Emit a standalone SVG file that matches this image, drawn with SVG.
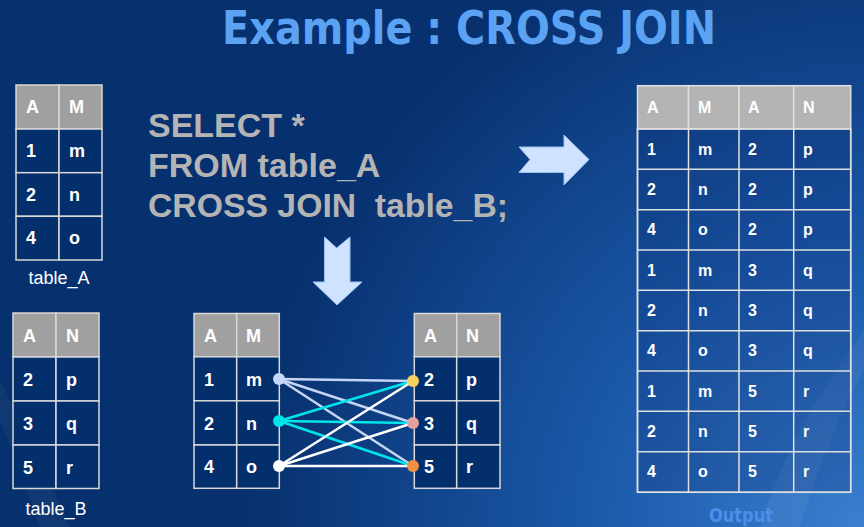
<svg xmlns="http://www.w3.org/2000/svg" width="864" height="527" viewBox="0 0 864 527">
<defs>
<radialGradient id="bg" cx="864" cy="527" r="620" gradientUnits="userSpaceOnUse">
<stop offset="0" stop-color="#3a7fd0"/>
<stop offset="0.45" stop-color="#1a58a8"/>
<stop offset="1" stop-color="#07306e"/>
</radialGradient>
<style>
.hdr{fill:#a0a0a0;stroke:#d8d8d8;stroke-width:1.5}
.ohdr{fill:#b4b4b4;stroke:#e0e0e0;stroke-width:1.5}
.cell{fill:#03306c;stroke:#d8d8d8;stroke-width:1.5}
.ocell{fill:#0a2a70;fill-opacity:0.25;stroke:#e0e0e0;stroke-width:1.5}
.t{font-family:"Liberation Sans",Arial,sans-serif;font-weight:bold;font-size:18px;fill:#ffffff}
.ot{font-family:"Liberation Sans",Arial,sans-serif;font-weight:bold;font-size:16px;fill:#ffffff}
.lbl{font-family:"Liberation Sans",Arial,sans-serif;font-size:18px;fill:#ffffff}
.sql{font-family:"Liberation Sans",Arial,sans-serif;font-weight:bold;font-size:34px;fill:#b4b4b4}
.arrow{fill:#cfe2ff;stroke:#9cc0f0;stroke-width:1}
</style>
</defs>
<rect x="0" y="0" width="864" height="527" fill="url(#bg)"/>
<path d="M0,380 Q40,460 70,527 L40,527 Q20,470 0,420 Z" fill="#ffffff" fill-opacity="0.04"/>
<path d="M864,330 Q790,430 760,527 L800,527 Q830,430 864,370 Z" fill="#ffffff" fill-opacity="0.05"/>

<text x="469" y="44" text-anchor="middle" font-family="'DejaVu Sans',Tahoma,sans-serif" font-weight="bold" font-size="46" fill="#5ca2f2" textLength="494" lengthAdjust="spacingAndGlyphs">Example : CROSS JOIN</text>

<g id="sql">
<text class="sql" x="148" y="137">SELECT *</text>
<text class="sql" x="148" y="177">FROM table_A</text>
<text class="sql" x="148" y="217" textLength="360" lengthAdjust="spacingAndGlyphs" xml:space="preserve">CROSS JOIN  table_B;</text>
</g>

<g id="arrow-right">
<polygon class="arrow" points="519,147 564,147 564,135 589,159.5 564,185 564,172.5 519,172.5 530,159.5"/>
</g>
<g id="arrow-down">
<polygon class="arrow" points="324.5,237 336.7,248 350,237 350,282 362,282 337,305 313,282 324.5,282"/>
</g>

<g id="table_A">
<rect class="hdr" x="16" y="85" width="43" height="44"/>
<rect class="hdr" x="59" y="85" width="43" height="44"/>
<rect class="cell" x="16" y="129" width="43" height="43.7"/>
<rect class="cell" x="59" y="129" width="43" height="43.7"/>
<rect class="cell" x="16" y="172.7" width="43" height="43.6"/>
<rect class="cell" x="59" y="172.7" width="43" height="43.6"/>
<rect class="cell" x="16" y="216.3" width="43" height="43.7"/>
<rect class="cell" x="59" y="216.3" width="43" height="43.7"/>
<text class="t" x="26" y="113">A</text><text class="t" x="69" y="113">M</text>
<text class="t" x="26" y="157">1</text><text class="t" x="69" y="157">m</text>
<text class="t" x="26" y="201">2</text><text class="t" x="69" y="201">n</text>
<text class="t" x="26" y="244">4</text><text class="t" x="69" y="244">o</text>
<text class="lbl" x="59" y="284" text-anchor="middle">table_A</text>
</g>

<g id="table_B">
<rect class="hdr" x="13" y="313" width="43" height="44"/>
<rect class="hdr" x="56" y="313" width="43" height="44"/>
<rect class="cell" x="13" y="357" width="43" height="44"/>
<rect class="cell" x="56" y="357" width="43" height="44"/>
<rect class="cell" x="13" y="401" width="43" height="44"/>
<rect class="cell" x="56" y="401" width="43" height="44"/>
<rect class="cell" x="13" y="445" width="43" height="43.5"/>
<rect class="cell" x="56" y="445" width="43" height="43.5"/>
<text class="t" x="23" y="342">A</text><text class="t" x="66" y="342">N</text>
<text class="t" x="23" y="386">2</text><text class="t" x="66" y="386">p</text>
<text class="t" x="23" y="430">3</text><text class="t" x="66" y="430">q</text>
<text class="t" x="23" y="474">5</text><text class="t" x="66" y="474">r</text>
<text class="lbl" x="56" y="515" text-anchor="middle">table_B</text>
</g>

<g id="mid_A">
<rect class="hdr" x="194" y="313.5" width="42.7" height="43.3"/>
<rect class="hdr" x="236.7" y="313.5" width="42.6" height="43.3"/>
<rect class="cell" x="194" y="356.8" width="42.7" height="44"/>
<rect class="cell" x="236.7" y="356.8" width="42.6" height="44"/>
<rect class="cell" x="194" y="400.8" width="42.7" height="44.2"/>
<rect class="cell" x="236.7" y="400.8" width="42.6" height="44.2"/>
<rect class="cell" x="194" y="445" width="42.7" height="43.3"/>
<rect class="cell" x="236.7" y="445" width="42.6" height="43.3"/>
<text class="t" x="204" y="342">A</text><text class="t" x="246" y="342">M</text>
<text class="t" x="204" y="386">1</text><text class="t" x="246" y="386">m</text>
<text class="t" x="204" y="430">2</text><text class="t" x="246" y="430">n</text>
<text class="t" x="204" y="473">4</text><text class="t" x="246" y="473">o</text>
</g>

<g id="mid_B">
<rect class="hdr" x="414.3" y="313.5" width="42.4" height="43.3"/>
<rect class="hdr" x="456.7" y="313.5" width="43.3" height="43.3"/>
<rect class="cell" x="414.3" y="356.8" width="42.4" height="44"/>
<rect class="cell" x="456.7" y="356.8" width="43.3" height="44"/>
<rect class="cell" x="414.3" y="400.8" width="42.4" height="44.2"/>
<rect class="cell" x="456.7" y="400.8" width="43.3" height="44.2"/>
<rect class="cell" x="414.3" y="445" width="42.4" height="43.3"/>
<rect class="cell" x="456.7" y="445" width="43.3" height="43.3"/>
<text class="t" x="424" y="342">A</text><text class="t" x="466" y="342">N</text>
<text class="t" x="424" y="386">2</text><text class="t" x="466" y="386">p</text>
<text class="t" x="424" y="430">3</text><text class="t" x="466" y="430">q</text>
<text class="t" x="424" y="473">5</text><text class="t" x="466" y="473">r</text>
</g>

<g id="connectors" stroke-width="2.5" stroke-linecap="round">
<line x1="279" y1="379" x2="413" y2="381" stroke="#c4d6f4"/>
<line x1="279" y1="379" x2="413" y2="423" stroke="#c4d6f4"/>
<line x1="279" y1="379" x2="413" y2="466" stroke="#c4d6f4"/>
<line x1="279" y1="421" x2="413" y2="381" stroke="#00e4ec"/>
<line x1="279" y1="421" x2="413" y2="423" stroke="#00e4ec"/>
<line x1="279" y1="421" x2="413" y2="466" stroke="#00e4ec"/>
<line x1="279" y1="466" x2="413" y2="381" stroke="#ffffff"/>
<line x1="279" y1="466" x2="413" y2="423" stroke="#ffffff"/>
<line x1="279" y1="466" x2="413" y2="466" stroke="#ffffff"/>
</g>
<g id="dots">
<circle cx="279" cy="379" r="6" fill="#c4d8f8"/>
<circle cx="279" cy="421" r="6" fill="#00e4ec"/>
<circle cx="279" cy="466" r="6" fill="#ffffff"/>
<circle cx="413" cy="381" r="6" fill="#f8d060"/>
<circle cx="413" cy="423" r="6" fill="#e4a0a0"/>
<circle cx="413" cy="466" r="6" fill="#f09040"/>
</g>

<g id="output">
<rect class="ohdr" x="637.5" y="85.7" width="51" height="43.3"/>
<rect class="ohdr" x="688.5" y="85.7" width="50.5" height="43.3"/>
<rect class="ohdr" x="739" y="85.7" width="54.7" height="43.3"/>
<rect class="ohdr" x="793.7" y="85.7" width="57" height="43.3"/>
<rect class="ocell" x="637.5" y="129" width="213.2" height="363.3"/>
<g fill="none" stroke="#e0e0e0" stroke-width="1.5">
<path d="M637.5,129 V492.3 H850.7 V129 M688.5,129 V492.3 M739,129 V492.3 M793.7,129 V492.3 M637.5,169.3 H850.7 M637.5,209.7 H850.7 M637.5,250 H850.7 M637.5,290.3 H850.7 M637.5,330.7 H850.7 M637.5,371 H850.7 M637.5,411.3 H850.7 M637.5,451.7 H850.7"/>
</g>
<text class="ot" x="647" y="113">A</text><text class="ot" x="698" y="113">M</text><text class="ot" x="748" y="113">A</text><text class="ot" x="803" y="113">N</text>
<text class="ot" x="647" y="155">1</text><text class="ot" x="698" y="155">m</text><text class="ot" x="748" y="155">2</text><text class="ot" x="803" y="155">p</text>
<text class="ot" x="647" y="195">2</text><text class="ot" x="698" y="195">n</text><text class="ot" x="748" y="195">2</text><text class="ot" x="803" y="195">p</text>
<text class="ot" x="647" y="235">4</text><text class="ot" x="698" y="235">o</text><text class="ot" x="748" y="235">2</text><text class="ot" x="803" y="235">p</text>
<text class="ot" x="647" y="276">1</text><text class="ot" x="698" y="276">m</text><text class="ot" x="748" y="276">3</text><text class="ot" x="803" y="276">q</text>
<text class="ot" x="647" y="316">2</text><text class="ot" x="698" y="316">n</text><text class="ot" x="748" y="316">3</text><text class="ot" x="803" y="316">q</text>
<text class="ot" x="647" y="356">4</text><text class="ot" x="698" y="356">o</text><text class="ot" x="748" y="356">3</text><text class="ot" x="803" y="356">q</text>
<text class="ot" x="647" y="397">1</text><text class="ot" x="698" y="397">m</text><text class="ot" x="748" y="397">5</text><text class="ot" x="803" y="397">r</text>
<text class="ot" x="647" y="437">2</text><text class="ot" x="698" y="437">n</text><text class="ot" x="748" y="437">5</text><text class="ot" x="803" y="437">r</text>
<text class="ot" x="647" y="477">4</text><text class="ot" x="698" y="477">o</text><text class="ot" x="748" y="477">5</text><text class="ot" x="803" y="477">r</text>
<text x="741" y="522" text-anchor="middle" font-family="'DejaVu Sans',Tahoma,sans-serif" font-weight="bold" font-size="19" fill="#4a90e8" textLength="64" lengthAdjust="spacingAndGlyphs">Output</text>
</g>
</svg>
